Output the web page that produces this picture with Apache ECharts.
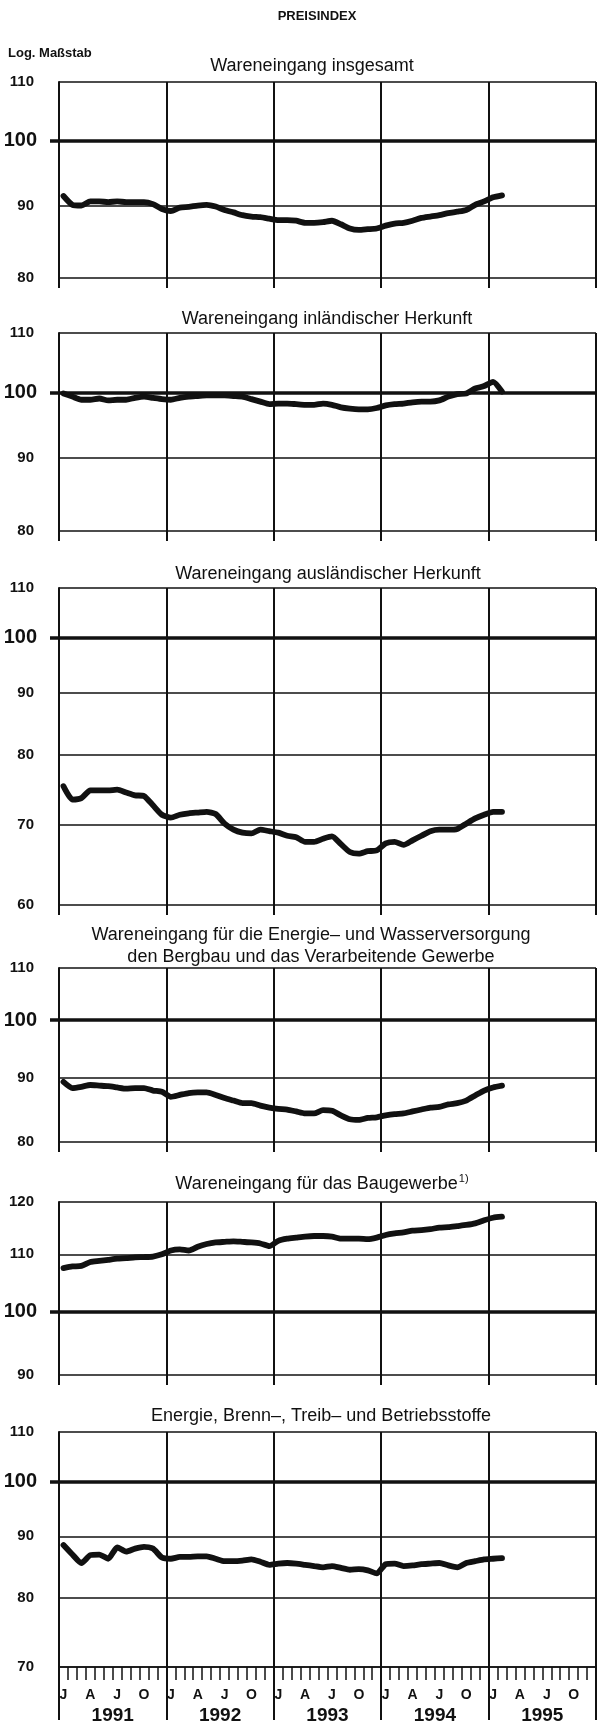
<!DOCTYPE html>
<html><head><meta charset="utf-8">
<script src="https://cdn.jsdelivr.net/npm/echarts@6/dist/echarts.min.js"></script>
<style>html,body{margin:0;padding:0;background:#fff}#c{width:597px;height:1728px}</style>
</head><body><div id="c"></div>
<script>
const years = ['1991','1992','1993','1994','1995'];
const monthLetters = ['J','','','A','','','J','','','O','',''];
const categories = [];
years.forEach(y => { for (let m = 1; m <= 12; m++) categories.push(y + '-' + m); });

const ticks1 = [80, 90, 100, 110];
const ticks2 = [80, 90, 100, 110];
const ticks3 = [60, 70, 80, 90, 100, 110];
const ticks4 = [80, 90, 100, 110];
const ticks5 = [90, 100, 110, 120];
const ticks6 = [70, 80, 90, 100, 110];

const insgesamt = [91.4,90.1,90.0,90.6,90.6,90.5,90.6,90.5,90.5,90.5,90.2,89.5,
  89.2,89.7,89.8,90.0,90.1,89.85,89.35,89.0,88.6,88.4,88.3,88.1,
  87.9,87.9,87.8,87.5,87.5,87.6,87.8,87.3,86.7,86.5,86.6,86.7,
  87.1,87.4,87.5,87.8,88.2,88.4,88.6,88.9,89.1,89.35,90.1,90.6,
  91.2,91.5];
const inland = [99.8,99.3,98.8,98.8,99.0,98.7,98.8,98.8,99.1,99.3,99.1,98.9,
  98.8,99.1,99.3,99.4,99.5,99.5,99.5,99.4,99.3,98.9,98.5,98.1,
  98.2,98.2,98.1,98.0,98.0,98.2,98.0,97.6,97.4,97.3,97.3,97.5,
  97.9,98.1,98.2,98.4,98.5,98.5,98.7,99.3,99.7,99.8,100.6,101.0,
  101.7,100.1];
const ausland = [75.3,73.4,73.6,74.7,74.7,74.7,74.8,74.4,74.0,73.9,72.6,71.3,
  70.9,71.3,71.5,71.6,71.7,71.4,70.1,69.3,68.9,68.8,69.3,69.1,
  68.9,68.5,68.3,67.7,67.7,68.1,68.4,67.4,66.4,66.2,66.5,66.6,
  67.5,67.7,67.3,67.9,68.5,69.1,69.3,69.3,69.4,70.1,70.8,71.3,
  71.7,71.7];
const energieWasser = [89.3,88.3,88.5,88.8,88.7,88.6,88.4,88.2,88.3,88.3,87.9,87.7,
  86.9,87.2,87.5,87.6,87.6,87.2,86.7,86.3,85.9,85.9,85.5,85.2,
  85.0,84.9,84.6,84.3,84.3,84.8,84.7,84.0,83.4,83.3,83.6,83.7,
  84.0,84.2,84.3,84.6,84.9,85.2,85.3,85.7,85.9,86.3,87.1,87.9,
  88.4,88.7];
const bau = [107.5,107.8,107.9,108.6,108.8,109.0,109.2,109.3,109.45,109.5,109.6,110.0,
  110.7,110.9,110.7,111.4,111.9,112.2,112.3,112.4,112.3,112.2,112.0,111.5,
  112.5,112.9,113.1,113.3,113.4,113.4,113.3,112.9,112.9,112.9,112.8,113.1,
  113.6,113.9,114.1,114.4,114.5,114.7,115.0,115.1,115.3,115.5,115.8,116.4,
  116.9,117.1];
const energieStoffe = [88.5,86.9,85.5,86.8,86.9,86.2,88.1,87.4,87.9,88.2,87.9,86.4,
  86.2,86.5,86.5,86.6,86.6,86.2,85.8,85.8,85.9,86.1,85.7,85.2,
  85.4,85.5,85.4,85.2,85.0,84.8,85.0,84.7,84.4,84.5,84.3,83.8,
  85.3,85.4,85.0,85.1,85.3,85.4,85.5,85.1,84.8,85.5,85.8,86.1,
  86.2,86.3];

const titles = [
  'Wareneingang insgesamt',
  'Wareneingang inländischer Herkunft',
  'Wareneingang ausländischer Herkunft',
  'Wareneingang für die Energie– und Wasserversorgung\nden Bergbau und das Verarbeitende Gewerbe',
  'Wareneingang für das Baugewerbe{sup|1)}',
  'Energie, Brenn–, Treib– und Betriebsstoffe'
];

const FONT = "'Liberation Sans', Arial, Helvetica, sans-serif";
const INK = '#111';

const panels = [
  {title: titles[0], tx: 312, ty: 55,   top: 82,   bottom: 278,  min: 80, max: 110, ticks: ticks1, data: insgesamt},
  {title: titles[1], tx: 327, ty: 308,  top: 333,  bottom: 531,  min: 80, max: 110, ticks: ticks2, data: inland},
  {title: titles[2], tx: 328, ty: 563,  top: 588,  bottom: 905,  min: 60, max: 110, ticks: ticks3, data: ausland},
  {title: titles[3], tx: 311, ty: 924,  top: 968,  bottom: 1142, min: 80, max: 110, ticks: ticks4, data: energieWasser},
  {title: titles[4], tx: 322, ty: 1173, top: 1202, bottom: 1375, min: 90, max: 120, ticks: ticks5, data: bau},
  {title: titles[5], tx: 321, ty: 1405, top: 1432, bottom: 1667, min: 70, max: 110, ticks: ticks6, data: energieStoffe}
];

const titleOpts = [
  {text: 'PREISINDEX', left: 317, top: 10, textAlign: 'center', padding: 0,
   textStyle: {fontFamily: FONT, fontSize: 13, fontWeight: 'bold', color: INK}},
  {text: 'Log. Maßstab', left: 8, top: 47, padding: 0,
   textStyle: {fontFamily: FONT, fontSize: 13, fontWeight: 'bold', color: INK}}
];
const grids = [], xAxes = [], yAxes = [], series = [];
const last = panels.length - 1;

panels.forEach((p, i) => {
  titleOpts.push({
    text: p.title, left: p.tx, top: p.ty, textAlign: 'center', padding: 0,
    textStyle: {fontFamily: FONT, fontSize: 18, fontWeight: 'normal', color: INK, lineHeight: 22,
      rich: {sup: {fontFamily: FONT, fontSize: 11, color: INK, verticalAlign: 'top', lineHeight: 12, padding: [0, 0, 8, 1]}}}
  });
  grids.push({left: 59, right: 1, top: p.top, height: p.bottom - p.top, containLabel: false});
  const isLast = i === last;
  xAxes.push({
    gridIndex: i, type: 'category', data: categories, boundaryGap: true, position: 'bottom',
    axisLine: {show: isLast, onZero: false, lineStyle: {color: INK, width: 1.6}},
    axisTick: {show: isLast, interval: 0, length: 13, lineStyle: {color: INK, width: 1.5}},
    axisLabel: {show: isLast, interval: 0, margin: 21, fontFamily: FONT, fontSize: 14, fontWeight: 'bold', color: INK,
      formatter: (v, idx) => monthLetters[idx % 12]},
    splitLine: {show: false}
  });
  xAxes.push({
    gridIndex: i, type: 'category', data: years, boundaryGap: true, position: 'bottom',
    axisLine: {show: false, onZero: false},
    axisTick: {show: true, interval: 0, length: isLast ? 53 : 10, lineStyle: {color: INK, width: 2}},
    axisLabel: {show: isLast, interval: 0, margin: 39, fontFamily: FONT, fontSize: 19, fontWeight: 'bold', color: INK},
    splitLine: {show: true, interval: 0, lineStyle: {color: INK, width: 2}}
  });
  yAxes.push({
    gridIndex: i, type: 'log', logBase: 10, min: p.min, max: p.max,
    axisLine: {show: true, lineStyle: {color: INK, width: 2}},
    axisTick: {show: true, customValues: [100], length: 9, lineStyle: {color: INK, width: 3.5}},
    axisLabel: {show: false},
    splitLine: {show: false}
  });
  series.push({
    type: 'line', xAxisIndex: 2 * i, yAxisIndex: i, data: p.data,
    symbol: 'none', smooth: 0.2, z: 5,
    lineStyle: {color: INK, width: 5.8, cap: 'round', join: 'round'},
    markLine: {
      silent: true, symbol: ['none', 'none'], animation: false,
      data: p.ticks.map(v => ({
        yAxis: v,
        lineStyle: {color: INK, width: v === 100 ? 3.5 : 1.6, type: 'solid'},
        label: {show: true, position: 'start', formatter: String(v),
          distance: v === 100 ? 22 : 25,
          fontFamily: FONT, fontSize: v === 100 ? 20 : 15, fontWeight: 'bold', color: INK}
      }))
    }
  });
});

const chart = echarts.init(document.getElementById('c'), null, {renderer: 'canvas'});
chart.setOption({
  animation: false,
  backgroundColor: '#fff',
  title: titleOpts,
  grid: grids,
  xAxis: xAxes,
  yAxis: yAxes,
  series: series
});
</script>
</body></html>
